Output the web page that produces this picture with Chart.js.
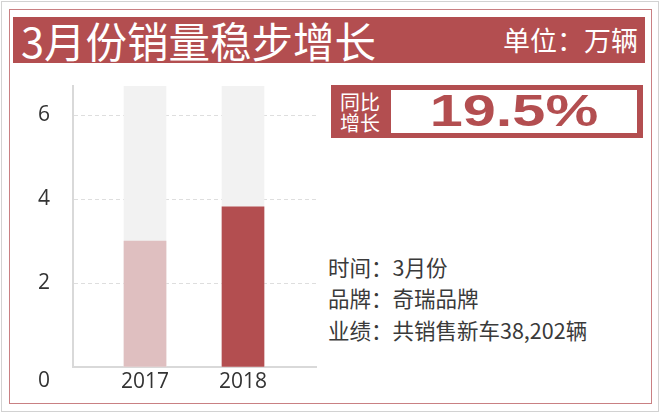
<!DOCTYPE html>
<html>
<head>
<meta charset="utf-8">
<script src="https://cdn.jsdelivr.net/npm/chart.js@4/dist/chart.umd.min.js"></script>
<style>
  body { margin: 0; width: 660px; height: 414px; background: #fff; position: relative; overflow: hidden;
         font-family: "Noto Sans CJK SC", sans-serif; }
  .abs { position: absolute; box-sizing: border-box; }
  #outer { left: 1px; top: 1px; width: 658px; height: 411px; border: 1px solid #d2d2d2; }
  #inner { left: 9px; top: 9px; width: 643px; height: 395px; border: 1px solid #c98083; }
  #titleBar { left: 13px; top: 17px; width: 632px; height: 46px; background: #b34e50; }
  #title { left: 21px; top: 17px; height: 46px; line-height: 46px; font-size: 41.5px; color: #fff; white-space: nowrap; }
  #unit { right: 22px; top: 17px; height: 46px; line-height: 46px; font-size: 27px; color: #fff; white-space: nowrap; }
  #growthBox { left: 331px; top: 85px; width: 312px; height: 53px; background: #b34e50; }
  #growthLabel { left: 340px; top: 91px; font-size: 20px; line-height: 21px; color: #fff; }
  #growthValue { left: 391px; top: 90px; width: 246px; height: 43px; background: #fff; }
  #growthValue span { position: absolute; left: 0; right: 0; top: 0; text-align: center; color: #b34e50;
                      font: bold 45px "Liberation Sans", Arial, sans-serif; line-height: 41px;
                      transform: scaleX(1.32); }
  .info { left: 328px; font-size: 21.5px; line-height: 30px; height: 30px; color: #3a3a3a; white-space: nowrap; }
  #chartCanvas { position: absolute; left: 0; top: 0; }
</style>
</head>
<body>
<div class="abs" id="outer"></div>
<div class="abs" id="inner"></div>
<div class="abs" id="titleBar"></div>
<div class="abs" id="title">3月份销量稳步增长</div>
<div class="abs" id="unit">单位：万辆</div>
<div class="abs" id="growthBox"></div>
<div class="abs" id="growthLabel">同比<br>增长</div>
<div class="abs" id="growthValue"><span>19.5%</span></div>
<div class="abs info" style="top:252px">时间：3月份</div>
<div class="abs info" style="top:283px">品牌：奇瑞品牌</div>
<div class="abs info" style="top:315px">业绩：共销售新车38,202辆</div>
<canvas id="chartCanvas" width="330" height="414"></canvas>
<script>
// Chart values
const years = ['2017', '2018'];
const sales = [3.0, 3.82];          // 万辆
const backdrop = [6.7, 6.7];        // grey full-height bars
const yTicks = [0, 2, 4, 6];
const barColors = ['#dfbfc0', '#b34e50'];

// bars sit on a linear x axis at positions 1, 2
const toPoints = values => values.map((v, i) => ({ x: i + 1, y: v }));

const ctx = document.getElementById('chartCanvas').getContext('2d');
new Chart(ctx, {
  type: 'bar',
  data: {
    datasets: [
      {
        data: toPoints(sales),
        backgroundColor: barColors,
        barThickness: 42,
        grouped: false,
        order: 0,
      },
      {
        data: toPoints(backdrop),
        backgroundColor: '#f2f2f2',
        barThickness: 42,
        grouped: false,
        order: 1,
      },
    ],
  },
  options: {
    responsive: false,
    animation: false,
    devicePixelRatio: 1,
    layout: { padding: { top: 86, left: 0, right: 14, bottom: 17 } },
    plugins: { legend: { display: false }, tooltip: { enabled: false } },
    scales: {
      x: {
        type: 'linear',
        offset: false,
        bounds: 'data',
        min: 0.265,
        max: 2.745,
        afterBuildTicks: scale => { scale.ticks = years.map((y, i) => ({ value: i + 1 })); },
        afterFit: scale => { scale.height = 30; },
        grid: { display: false, drawTicks: false },
        border: { display: true, color: '#d9d9d9', width: 2 },
        ticks: {
          padding: 2,
          color: '#333',
          font: { family: 'Open Sans', size: 21 },
          callback: v => years[v - 1],
        },
      },
      y: {
        min: 0,
        max: 6.7,
        afterBuildTicks: scale => { scale.ticks = yTicks.map(v => ({ value: v })); },
        afterFit: scale => {
          scale.width = 73;
          // the low "0" label must not push the plot area up
          scale.paddingTop = 0;
          scale.paddingBottom = 0;
        },
        grid: {
          drawTicks: false,
          color: c => (c.tick && c.tick.value === 0 ? 'rgba(0,0,0,0)' : '#dedede'),
        },
        border: { display: true, color: '#d9d9d9', width: 2, dash: [4, 3] },
        ticks: {
          padding: 23,
          color: '#333',
          font: { family: 'Open Sans', size: 21, lineHeight: 1.35 },
          // the 0 label sits lower, level with the year labels
          callback: v => (v === 0 ? ['', '0'] : String(v)),
        },
      },
    },
  },
});
</script>
</body>
</html>
